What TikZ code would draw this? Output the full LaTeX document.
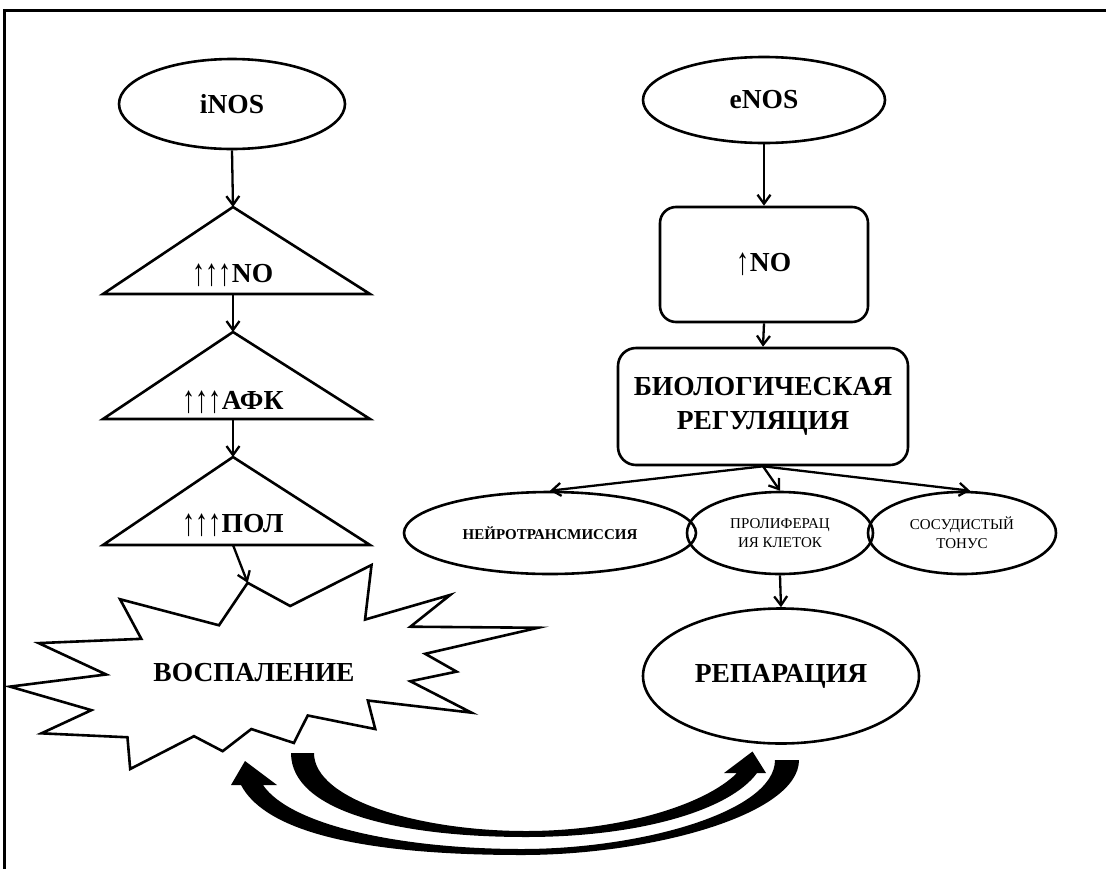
\documentclass[tikz,border=0pt]{standalone}
\usepackage{fontspec}
\setmainfont{Liberation Serif}
\usetikzlibrary{shapes.geometric, arrows.meta, calc}
% tall thin "increase" arrow used in front of the labels
\newcommand\uparr{\raisebox{-3pt}{\scalebox{0.95}[1.4]{\mdseries ↑}}}

\begin{document}
\begin{tikzpicture}[x=1pt, y=-1pt,
  outline/.style={draw, line width=2.6pt},
  oval/.style={outline, ellipse, inner sep=0pt},
  rbox/.style={outline, rounded corners=16pt, inner sep=0pt},
  link/.style={line width=2.3pt, -{Straight Barb[length=9pt,width=13pt,line width=2.3pt]}},
  big/.style={font=\fontsize{27.5}{34}\selectfont\bfseries, align=center},
  small/.style={font=\fontsize{15}{19}\selectfont, align=center},
  smallbold/.style={font=\fontsize{15}{19}\selectfont\bfseries, align=center},
  tri/.style={outline, line join=miter},
]
\useasboundingbox (0,0) rectangle (1106,868);
\fill[white] (0,0) rectangle (1106,868);

% outer frame (only the left and top edges fall inside the page)
\draw[line width=3pt] (4.5,880) -- (4.5,10) -- (1120,10);

% ---------- left column: iNOS cascade ----------
\node[oval, minimum width=226pt, minimum height=90pt, big] (inos) at (232,104) {iNOS};

\draw[tri] (233,207) -- (370,294) -- (103,294) -- cycle;
\coordinate (t1top) at (233,207);
\coordinate (t1base) at (233,294);
\node[big] (no3) at (233,275) {\uparr\uparr\uparr NO};

\draw[tri] (233,332) -- (370,419) -- (103,419) -- cycle;
\coordinate (t2top) at (233,332);
\coordinate (t2base) at (233,419);
\node[big] (afk) at (233,402) {\uparr\uparr\uparr АФК};

\draw[tri] (233,457) -- (370,545) -- (103,545) -- cycle;
\coordinate (t3top) at (233,457);
\coordinate (t3base) at (233,545);
\node[big] (pol) at (233,525) {\uparr\uparr\uparr ПОЛ};

% explosion outline
\begin{scope}[shift={(10,565)}, x=2.4444pt, y=-0.9444pt]
\draw[outline, fill=white, line join=miter]
  (114.62,43.42) -- (147.90,0) -- (145.25,57.77) -- (180.07,31.72) --
  (163.80,65.32) -- (216,66.45) -- (169.85,94.02) -- (182.70,112.90) --
  (163.80,123.10) -- (188.77,156.32) -- (146.40,143.50) -- (149.42,173.70) --
  (121.80,159.35) -- (116.12,188.42) -- (98.72,173.70) -- (87.00,197.12) --
  (75.27,181.25) -- (49.17,216) -- (48.05,182.40) -- (12.85,178.25) --
  (33.30,153.70) -- (0,128.77) -- (39.35,115.92) -- (11.72,82.70) --
  (53.72,78.17) -- (45.02,36.25) -- (85.50,63.82) -- (97.22,18.87) -- cycle;
\coordinate (startop) at (97.22,18.87);
\end{scope}
\node[big] (vosp) at (254,673) {ВОСПАЛЕНИЕ};

\draw[link] (inos.south) -- (t1top);
\draw[link] (t1base) -- (t2top);
\draw[link] (t2base) -- (t3top);
\draw[link] (t3base) -- (startop);

% ---------- right column: eNOS cascade ----------
\node[oval, minimum width=242pt, minimum height=86pt, big] (enos) at (764,100) {eNOS};
\node[rbox, minimum width=208pt, minimum height=115pt, big] (no) at (764,264.5) {\uparr NO};
\node[rbox, rounded corners=18pt, minimum width=290pt, minimum height=117pt, big] (bio) at (763,406.5) {БИОЛОГИЧЕСКАЯ\\РЕГУЛЯЦИЯ};

\node[oval, minimum width=292pt, minimum height=82pt, smallbold] (neuro) at (550,533) {НЕЙРОТРАНСМИССИЯ};
\node[oval, minimum width=186pt, minimum height=82pt, small] (prolif) at (780,533) {ПРОЛИФЕРАЦ\\ИЯ КЛЕТОК};
\node[oval, minimum width=188pt, minimum height=82pt, small] (vasc) at (962,533) {СОСУДИСТЫЙ\\ТОНУС};

\node[oval, minimum width=276pt, minimum height=135pt, big] (repar) at (781,676) {РЕПАРАЦИЯ};

\draw[link] (enos.south) -- (no.north);
\draw[link] (no.south) -- (bio.north);
\draw[link] (bio.south) -- (neuro.north);
\draw[link] (bio.south) -- (prolif.north);
\draw[link] (bio.south) -- ([xshift=8pt]vasc.north);
\draw[link] (prolif.south) -- (repar.north);

% ---------- curved block arrows between the two outcomes ----------
\fill (291,753) .. controls (291,812) and (400,837) .. (526,837)
  .. controls (640,837) and (730,810) .. (757,773)
  -- (766,773) -- (752.5,751.5) -- (724,773) -- (737,773)
  .. controls (705,805) and (620,831) .. (526,831)
  .. controls (420,831) and (314,800) .. (314,753) -- cycle;

\fill (799,760) .. controls (799,815) and (650,855) .. (522,855)
  .. controls (340,855) and (262,825) .. (241,785)
  -- (231,785) -- (245,761) -- (277,785) -- (263,785)
  .. controls (290,825) and (400,849) .. (522,849)
  .. controls (640,849) and (775,812) .. (775,760) -- cycle;
\end{tikzpicture}
\end{document}
